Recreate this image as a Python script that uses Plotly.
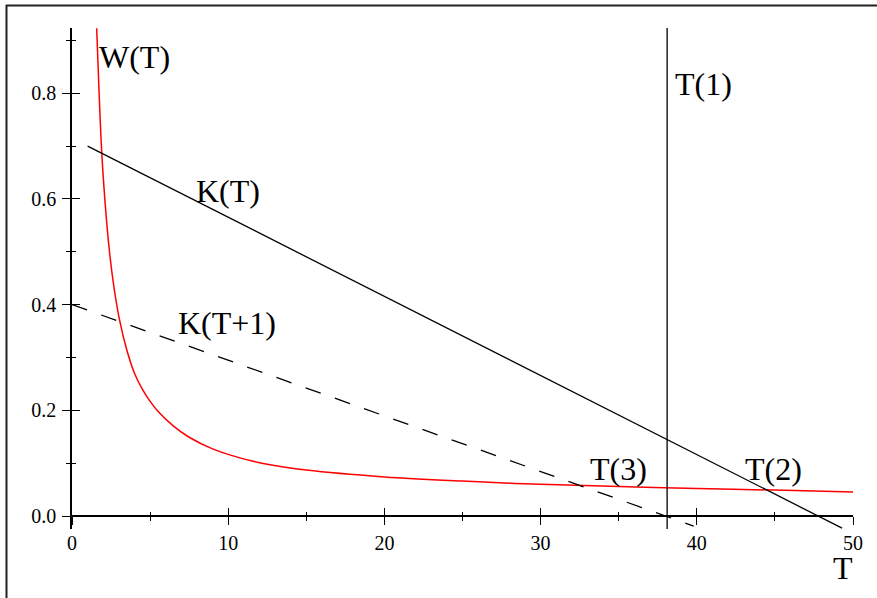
import plotly.graph_objects as go

# ---- data ----
w_T = [1.58, 1.75, 1.9, 2.1, 2.4, 2.7, 3.05, 3.5, 4.0, 4.5, 5.0, 5.5, 6.5, 7.5, 9.0, 10.75, 12.5, 15,
       20, 25, 30, 35, 40, 45, 50]
w_val = [0.923, 0.79, 0.69, 0.60, 0.50, 0.43, 0.37, 0.315, 0.27, 0.24, 0.217, 0.198, 0.170, 0.149, 0.127,
         0.110, 0.098, 0.087, 0.074, 0.066, 0.060, 0.056, 0.052, 0.049, 0.0455]
k_T = [1.0, 49.3]
k_val = [0.70, -0.023]
k1_T = [0.0, 39.8]
k1_val = [0.40, -0.019]
t1_x = [38.1, 38.1]
t1_y = [-0.0246, 0.9234]

x_ticks = [0, 10, 20, 30, 40, 50]
x_ticktext = ["0", "10", "20", "30", "40", "50"]
y_ticks = [0.0, 0.2, 0.4, 0.6, 0.8]
y_ticktext = ["0.0", "0.2", "0.4", "0.6", "0.8"]

labels = ["W(T)", "T(1)", "K(T)", "K(T+1)", "T(3)", "T(2)"]
label_x = [3.97, 40.46, 9.99, 9.92, 34.96, 44.88]
label_y = [0.8685, 0.8174, 0.615, 0.365, 0.0889, 0.0889]
label_size = [32, 32, 32, 32, 32, 32]
axis_title = "T"

# ---- geometry ----
W, H = 877, 598
ML, MR, MT, MB = 72, 24, 28, 69
XR = [0, 50]
YR = [-0.0246, 0.9234]
pw = W - ML - MR
ph = H - MT - MB
pos0 = (0 - YR[0]) / (YR[1] - YR[0])

FONT = "Liberation Serif, Times New Roman, serif"

fig = go.Figure()
fig.add_trace(go.Scatter(x=w_T, y=w_val, mode="lines", line=dict(color="#ff0000", width=1.5),
                         line_shape="spline", showlegend=False))
fig.add_trace(go.Scatter(x=k_T, y=k_val, mode="lines", line=dict(color="black", width=1.3), showlegend=False))
fig.add_trace(go.Scatter(x=k1_T, y=k1_val, mode="lines", line=dict(color="black", width=1.3, dash="16px,15px"),
                         showlegend=False))
fig.add_trace(go.Scatter(x=t1_x, y=t1_y, mode="lines", line=dict(color="black", width=1.3), showlegend=False))
# dummy trace for the overlay axes (inside half of crossing ticks)
fig.add_trace(go.Scatter(x=[None], y=[None], xaxis="x2", yaxis="y2", showlegend=False, hoverinfo="skip"))

tickfont = dict(family=FONT, size=20, color="black")

fig.update_layout(
    width=W, height=H,
    margin=dict(l=ML, r=MR, t=MT, b=MB),
    paper_bgcolor="white", plot_bgcolor="white",
    showlegend=False,
    xaxis=dict(range=XR, anchor="free", position=pos0, showline=True, linecolor="black", linewidth=1.5,
               ticks="outside", ticklen=8, tickwidth=1.3, tickcolor="black",
               tickmode="array", tickvals=x_ticks, ticktext=x_ticktext, tickfont=tickfont,
               ticklabelstandoff=1,
               minor=dict(ticks="outside", ticklen=4, tickwidth=1.3, tickcolor="black", tickmode="linear", tick0=0, dtick=5),
               showgrid=False, zeroline=False),
    xaxis2=dict(range=XR, overlaying="x", matches="x", anchor="free", position=pos0, showline=False,
                ticks="inside", ticklen=8, tickwidth=1.3, tickcolor="black",
                tickmode="array", tickvals=x_ticks, showticklabels=False,
                minor=dict(ticks="inside", ticklen=4, tickwidth=1.3, tickcolor="black", tickmode="linear", tick0=0, dtick=5),
                showgrid=False, zeroline=False),
    yaxis=dict(range=YR, showline=True, linecolor="black", linewidth=1.5,
               ticks="outside", ticklen=8, tickwidth=1.3, tickcolor="black",
               tickmode="array", tickvals=y_ticks, ticktext=y_ticktext, tickfont=tickfont,
               ticklabelstandoff=2,
               minor=dict(ticks="outside", ticklen=4, tickwidth=1.3, tickcolor="black", tickmode="linear", tick0=0, dtick=0.1),
               showgrid=False, zeroline=False),
    yaxis2=dict(range=YR, overlaying="y", matches="y", anchor="x2", showline=False,
                ticks="inside", ticklen=8, tickwidth=1.3, tickcolor="black",
                tickmode="array", tickvals=y_ticks, showticklabels=False,
                minor=dict(ticks="inside", ticklen=4, tickwidth=1.3, tickcolor="black", tickmode="linear", tick0=0, dtick=0.1),
                showgrid=False, zeroline=False),
)

for t, x, y, s in zip(labels, label_x, label_y, label_size):
    fig.add_annotation(x=x, y=y, xref="x", yref="y", text=t, showarrow=False,
                       xanchor="center", yanchor="middle",
                       font=dict(family=FONT, size=s, color="black"))


def px2paper_x(px):
    return (px - ML) / pw


def px2paper_y(py):
    return (H - MB - py) / ph


# x-axis title "T" below the right end of the axis
fig.add_annotation(x=px2paper_x(843), y=px2paper_y(568), xref="paper", yref="paper", text=axis_title,
                   showarrow=False, xanchor="center", yanchor="middle",
                   font=dict(family=FONT, size=32, color="black"))

# outer frame (top and left edges visible in the reference)
fig.add_shape(type="line", xref="paper", yref="paper",
              x0=px2paper_x(6), x1=px2paper_x(W + 2), y0=px2paper_y(5.5), y1=px2paper_y(5.5),
              line=dict(color="#222", width=2))
fig.add_shape(type="line", xref="paper", yref="paper",
              x0=px2paper_x(6.5), x1=px2paper_x(6.5), y0=px2paper_y(5), y1=px2paper_y(H + 2),
              line=dict(color="#222", width=2))

fig.write_html("out.html", config={"displayModeBar": False},
               post_script="document.body.style.margin='0';document.body.style.padding='0';document.body.style.overflow='hidden';")
